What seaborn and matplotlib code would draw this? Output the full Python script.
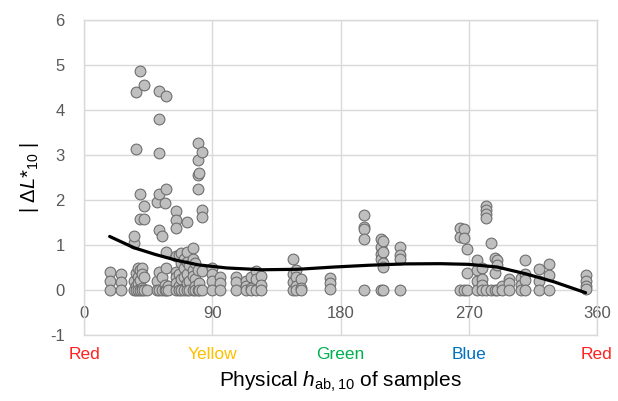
import matplotlib
matplotlib.use("Agg")
import matplotlib.pyplot as plt
import seaborn as sns
import pandas as pd

# ---------------- data ----------------
hue_groups = [
    (18, [0.41, 0.21, 0.0]),
    (26, [0.36, 0.18, 0.0]),
    (35, [1.04, 1.2, 0.2, 0.0]),
    (36.5, [4.41, 3.14, 0.38, 0.1, 0.0]),
    (38, [0.5, 0.3, 0.15, 0.0]),
    (39.5, [4.87, 2.14, 1.57, 0.45, 0.22, 0.0]),
    (41, [0.48, 0.35, 0.05, 0.0]),
    (42.2, [4.55, 1.86, 1.58, 0.3, 0.0]),
    (44, [0.0]),
    (51.5, [1.95, 0.2, 0.0]),
    (52.5, [4.43, 3.8, 3.04, 2.14, 1.33, 0.41, 0.0]),
    (54.8, [1.21, 0.3, 0.0]),
    (56.7, [1.94, 0.12, 0.0]),
    (57.2, [4.32, 2.24, 0.84, 0.5, 0.0]),
    (59, [0.1, 0.0]),
    (64.7, [1.75, 1.56, 1.37, 0.75, 0.4, 0.3, 0.15, 0.0]),
    (66.5, [0.78, 0.35, 0.1, 0.0]),
    (68, [0.82, 0.6, 0.25, 0.0]),
    (70, [0.7, 0.5, 0.3, 0.0]),
    (72.3, [1.51, 0.85, 0.62, 0.35, 0.15, 0.0]),
    (74, [0.55, 0.2, 0.0]),
    (76.4, [0.93, 0.7, 0.45, 0.32, 0.0]),
    (78, [0.6, 0.25, 0.1, 0.0]),
    (80, [3.27, 2.9, 2.55, 2.24, 0.45, 0.0]),
    (81, [2.59, 0.15, 0.0]),
    (83, [3.06, 1.77, 1.62, 0.42, 0.0]),
    (90, [0.5, 0.35, 0.2, 0.0]),
    (95.5, [0.28, 0.15, 0.0]),
    (107, [0.3, 0.18, 0.0]),
    (114, [0.2, 0.1, 0.0]),
    (117, [0.28, 0.05, 0.0]),
    (121, [0.42, 0.25, 0.0]),
    (124, [0.32, 0.12, 0.0]),
    (146.5, [0.68, 0.35, 0.18, 0.0]),
    (149, [0.45, 0.28, 0.1, 0.0]),
    (152, [0.25, 0.05, 0.0]),
    (172.5, [0.26, 0.15, 0.02]),
    (196.5, [1.67, 1.41, 1.36, 1.13, 0.0]),
    (208.5, [1.13, 0.95, 0.81, 0.7, 0.0]),
    (210, [1.1, 0.85, 0.6, 0.52, 0.0]),
    (222, [0.96, 0.78, 0.7, 0.0]),
    (264, [1.38, 1.18, 0.0]),
    (266.5, [1.35, 1.16, 0.0]),
    (268.5, [0.92, 0.37, 0.0]),
    (276, [0.67, 0.45, 0.2, 0.0]),
    (279.5, [0.48, 0.25, 0.12, 0.0]),
    (282.2, [1.87, 1.78, 1.69, 1.6, 0.0]),
    (285.5, [1.04, 0.0]),
    (288.3, [0.72, 0.37, 0.0]),
    (290, [0.67, 0.55, 0.0]),
    (293.5, [0.1, 0.0]),
    (298.4, [0.25, 0.15, 0.0]),
    (306.6, [0.27, 0.12, 0.0]),
    (309.8, [0.67, 0.36, 0.22, 0.0]),
    (319, [0.47, 0.2, 0.0]),
    (326.5, [0.57, 0.33, 0.0]),
    (352.3, [0.33, 0.2, 0.1, 0.02]),
]
hue_deg = [h for h, ys in hue_groups for _ in ys]
delta_L = [y for _, ys in hue_groups for y in ys]

# trend line
trend_hue = [18, 35, 50, 65, 80, 100, 125, 150, 175, 200, 225, 250, 270, 290, 310, 330, 352]
trend_dl = [1.19, 0.94, 0.79, 0.66, 0.56, 0.49, 0.45, 0.46, 0.51, 0.55, 0.58, 0.585, 0.57, 0.51, 0.36, 0.18, -0.06]

x_ticks = [0, 90, 180, 270, 360]
y_ticks = [-1, 0, 1, 2, 3, 4, 5, 6]
color_names = ["Red", "Yellow", "Green", "Blue", "Red"]
color_values = ["#FF2020", "#FFC000", "#00B050", "#0070C0", "#FF2020"]

# ---------------- plotting ----------------
sns.set_theme(style="white")
plt.rcParams["font.family"] = ["Liberation Sans", "DejaVu Sans"]
plt.rcParams["mathtext.fontset"] = "custom"
plt.rcParams["mathtext.rm"] = "Liberation Sans"
plt.rcParams["mathtext.it"] = "Liberation Sans:italic"
plt.rcParams["axes.unicode_minus"] = False

fig = plt.figure(figsize=(6.18, 4.01), dpi=100)
ax = fig.add_axes([84 / 618, 1 - 335 / 401, (597 - 84) / 618, (335 - 20) / 401])

grid_c = "#D9D9D9"
df = pd.DataFrame({"hue": hue_deg, "dL": delta_L})
sns.scatterplot(data=df, x="hue", y="dL", ax=ax, s=60, color="#BFBFBF",
                edgecolor="#6E6E6E", linewidth=0.8, zorder=3, clip_on=False)
tr = pd.DataFrame({"hue": trend_hue, "dL": trend_dl})
sns.lineplot(data=tr, x="hue", y="dL", ax=ax, color="black", linewidth=2.3,
             zorder=4, sort=True)

ax.set_xlim(0, 360)
ax.set_ylim(-1, 6)
ax.set_xticks(x_ticks)
ax.set_yticks(y_ticks)
ax.set_xticklabels([str(v) for v in x_ticks])
ax.grid(True, color=grid_c, linewidth=1.0, zorder=0)
ax.set_axisbelow(True)
for s in ax.spines.values():
    s.set_color(grid_c)
    s.set_linewidth(1.0)
ax.tick_params(axis="both", length=0, labelsize=12, labelcolor="#595959")
ax.tick_params(axis="x", pad=-21)
ax.tick_params(axis="y", pad=14)

for xv, name, col in zip(x_ticks, color_names, color_values):
    ax.text(xv, -1.44, name, color=col, fontsize=12.5, ha="center", va="center",
            clip_on=False)

ax.set_xlabel(r"Physical $h$$_{\mathregular{ab,10}}$ of samples", fontsize=15,
              labelpad=25, color="black")
ax.set_ylabel(r"| Δ$L$*$_{\mathregular{10}}$ |", fontsize=14.5, labelpad=6, color="black")

fig.savefig("out.png", dpi=100, facecolor="white")
